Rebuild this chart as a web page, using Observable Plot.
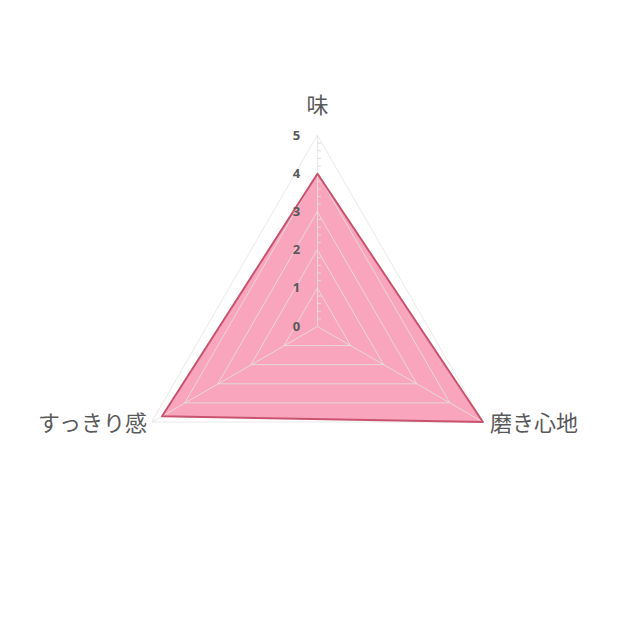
<!DOCTYPE html>
<html>
<head>
<meta charset="utf-8">
<script src="https://cdn.jsdelivr.net/npm/d3@7"></script>
<script src="https://cdn.jsdelivr.net/npm/@observablehq/plot@0.6"></script>
<style>
  html, body { margin: 0; padding: 0; background: #fff; }
  #chart svg { display: block; }
</style>
</head>
<body>
<div id="chart"></div>
<script>
const categories = ["味", "磨き心地", "すっきり感"];
const values = [4, 5, 4.7];
const tickLabels = [0, 1, 2, 3, 4, 5];
const maxValue = 5;

const n = categories.length;
const angle = i => (Math.PI / 2) - i * 2 * Math.PI / n;
const px = (i, v) => v * Math.cos(angle(i));
const py = (i, v) => v * Math.sin(angle(i));

const rings = [];
for (const lv of tickLabels.filter(t => t > 0)) {
  categories.forEach((c, i) => rings.push({level: lv, i}));
}
const spokes = categories.map((c, i) => ({i}));
const minor = [];
for (let k = 1; k < maxValue * 5; k++) if (k % 5 !== 0) minor.push(k / 5);

const dataPts = categories.map((c, i) => ({i, v: values[i]}));
const labelPts = categories.map((c, i) => ({i, name: c}));

const W = 640, H = 639, cx = 317, cy = 326, unit = 38.2;
const labelStyle = {fill: "#595959", fontSize: 22, letterSpacing: "1.5px"};

const plot = Plot.plot({
  width: W,
  height: H,
  margin: 0,
  x: {domain: [-cx / unit, (W - cx) / unit], axis: null},
  y: {domain: [-(H - cy) / unit, cy / unit], axis: null},
  style: {fontFamily: "'Noto Sans CJK JP', 'Noto Sans', sans-serif", background: "#fff"},
  marks: [
    Plot.line(dataPts, {
      x: d => px(d.i, d.v), y: d => py(d.i, d.v),
      curve: "linear-closed", fill: "#f9a5bd", stroke: "none"
    }),
    Plot.line(rings, {
      x: d => px(d.i, d.level), y: d => py(d.i, d.level), z: "level",
      curve: "linear-closed", stroke: "#e4e4e4", strokeWidth: 1, strokeOpacity: 0.8
    }),
    Plot.link(spokes, {
      x1: 0, y1: 0, x2: d => px(d.i, maxValue), y2: d => py(d.i, maxValue),
      stroke: "#e4e4e4", strokeWidth: 1, strokeOpacity: 0.8
    }),
    Plot.link(minor, {
      x1: 0, y1: d => d, x2: 0.09, y2: d => d,
      stroke: "#dcdcdc", strokeWidth: 1
    }),
    Plot.line(dataPts, {
      x: d => px(d.i, d.v), y: d => py(d.i, d.v),
      curve: "linear-closed", stroke: "#c9536f", strokeWidth: 2, fill: "none"
    }),
    Plot.text(tickLabels, {
      x: 0, y: d => d, text: d => String(d), dx: -21,
      fill: "#595959", fontSize: 13, fontWeight: "bold",
      fontFamily: "'Noto Sans', sans-serif"
    }),
    Plot.text(labelPts.filter(d => d.i === 0), {
      x: d => px(d.i, maxValue), y: d => py(d.i, maxValue),
      text: "name", textAnchor: "middle", dy: -30, ...labelStyle
    }),
    Plot.text(labelPts.filter(d => d.i === 1), {
      x: d => px(d.i, maxValue), y: d => py(d.i, maxValue),
      text: "name", textAnchor: "start", dx: 7, dy: 2, ...labelStyle
    }),
    Plot.text(labelPts.filter(d => d.i === 2), {
      x: d => px(d.i, maxValue), y: d => py(d.i, maxValue),
      text: "name", textAnchor: "end", dx: -5, dy: 2, ...labelStyle
    })
  ]
});
document.getElementById("chart").appendChild(plot);
</script>
</body>
</html>
